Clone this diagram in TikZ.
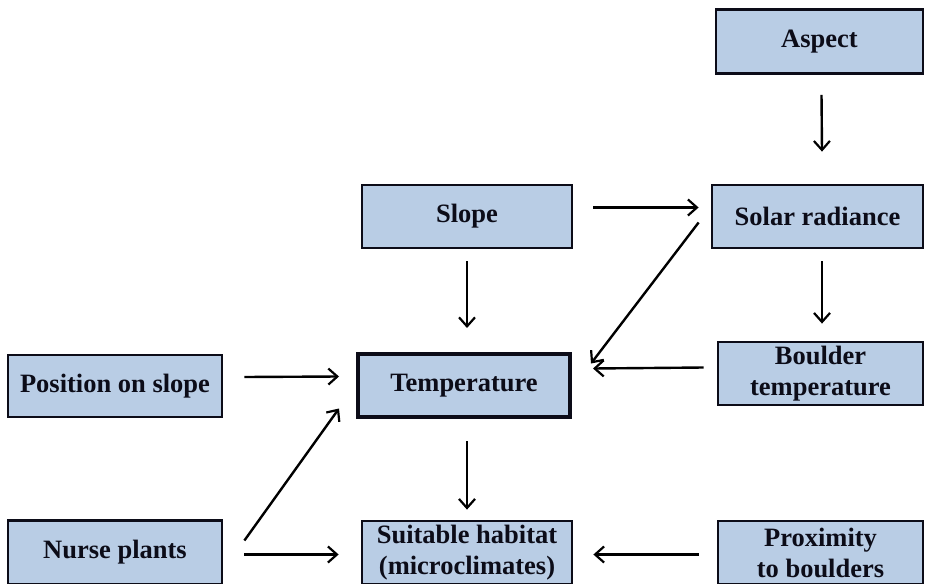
\documentclass[tikz,border=0pt]{standalone}
\usepackage{fontspec}
\setmainfont{Liberation Serif}
\usepackage{xcolor}
\usepackage{tikz}
\usetikzlibrary{positioning, arrows.meta, calc}
\definecolor{boxblue}{RGB}{185,205,229}
\definecolor{inkdark}{RGB}{12,12,24}

\begin{document}
\begin{tikzpicture}[x=1pt, y=-1pt,
    every node/.style={font=\fontsize{26.5}{31}\selectfont\bfseries, text=inkdark},
    factor/.style={draw=inkdark, line width=2.8pt, fill=boxblue, align=center,
      minimum width=210pt, minimum height=63pt, inner sep=0pt},
    arr/.style={-{Straight Barb[length=9pt, width=16pt, line width=2.2pt]}, line width=2.4pt}]
      \useasboundingbox (0,0) rectangle (925,583);
      % Factor boxes
      \node[factor, minimum width=207pt, minimum height=64pt] (aspect) at (819.5,41.5) {Aspect};
      \node[factor] (slope) at (467,216.5) {Slope};
      \node[factor, minimum width=211pt] (solar) at (817.5,216.5) {Solar radiance};
      \node[factor, minimum width=205pt] (boulder) at (820.5,373.5) {Boulder\\temperature};
      \node[factor, line width=4pt, minimum width=212pt, minimum height=63pt] (temp) at (464,385.5) {Temperature};
      \node[factor, minimum width=214pt, minimum height=62pt] (pos) at (115,386) {Position on slope};
      \node[factor, minimum width=214pt, minimum height=64pt] (nurse) at (115,552.5) {Nurse plants};
      \node[factor] (suit) at (467,552.5) {Suitable habitat\\(microclimates)};
      \node[factor, minimum width=205pt] (prox) at (820.5,552.5) {Proximity\\to boulders};
      % Arrows
      \draw[arr] ($(aspect.south)+(2,20)$) -- ($(solar.north)+(4.5,-32)$);
      \draw[arr] ($(slope.east)+(20,-9)$) -- ($(solar.west)+(-12,-9)$);
      \draw[arr] ($(solar.west)+(-12,6)$) -- ($(temp.east)+(19,-22)$);
      \draw[arr] ($(slope.south)+(0,12)$) -- ($(temp.north)+(3,-24)$);
      \draw[arr] ($(solar.south)+(4.5,12)$) -- ($(boulder.north)+(1.5,-17)$);
      \draw[arr] ($(boulder.west)+(-13,-6)$) -- ($(temp.east)+(21,-17)$);
      \draw[arr] ($(pos.east)+(21,-9)$) -- ($(temp.west)+(-17,-9)$);
      \draw[arr] ($(nurse.east)+(21,-12)$) -- ($(temp.west)+(-17,23)$);
      \draw[arr] ($(temp.south)+(3,22)$) -- ($(suit.north)+(0,-10)$);
      \draw[arr] ($(nurse.east)+(21,2)$) -- ($(suit.west)+(-22,2)$);
      \draw[arr] ($(prox.west)+(-18,2)$) -- ($(suit.east)+(20,2)$);
\end{tikzpicture}
\end{document}
